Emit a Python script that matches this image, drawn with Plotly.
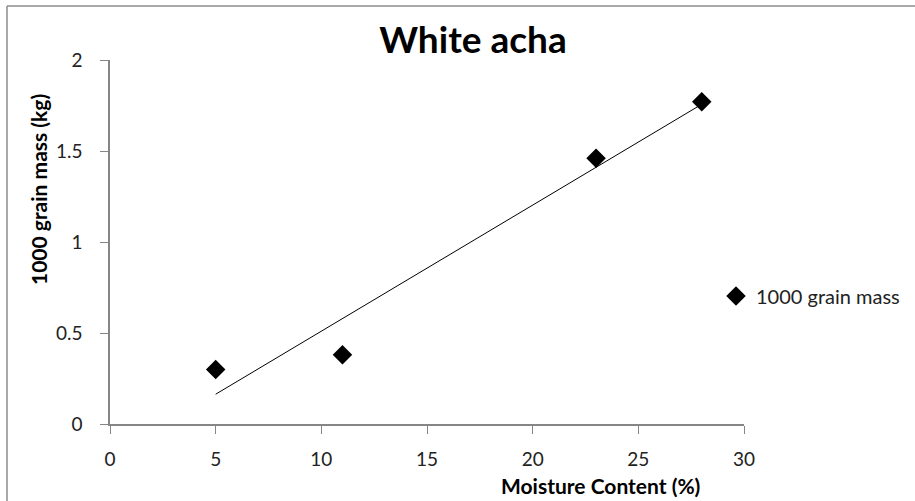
import numpy as np
import plotly.graph_objects as go

# data
moisture = [5, 11, 23, 28]
grain_mass = [0.30, 0.38, 1.46, 1.77]
series_name = "1000 grain mass"

FONT = "Lato, Carlito, Calibri, sans-serif"
AXIS_GREY = "#868686"

# linear trendline (least squares fit, like Excel)
slope, intercept = np.polyfit(moisture, grain_mass, 1)
trend_x = [min(moisture), max(moisture)]
trend_y = [slope * x + intercept for x in trend_x]

fig = go.Figure()
fig.add_trace(go.Scatter(
    x=trend_x, y=trend_y, mode="lines",
    line=dict(color="#000000", width=1),
    showlegend=False, hoverinfo="skip",
))
fig.add_trace(go.Scatter(
    x=moisture, y=grain_mass, mode="markers", name=series_name,
    marker=dict(symbol="diamond", size=15, color="#000000"),
))

W, H = 915, 501
ml, mr, mt, mb = 110, W - 744, 60, H - 424
pw, ph = W - ml - mr, H - mt - mb


def px_x(x):
    # pixel column -> paper x
    return (x - ml) / pw


def px_y(y):
    # pixel row -> paper y
    return 1 - (y - mt) / ph


fig.update_layout(
    width=W, height=H,
    margin=dict(l=ml, r=mr, t=mt, b=mb, autoexpand=False),
    paper_bgcolor="white", plot_bgcolor="white",
    font=dict(family=FONT, size=19, color="#222222"),
    title=dict(text="<b>White acha</b>", x=473 / W, xanchor="center",
               y=1 - 40 / H, yanchor="middle",
               font=dict(size=37, color="#000000", family=FONT)),
    showlegend=True,
    legend=dict(x=px_x(716), xanchor="left", y=px_y(296), yanchor="middle",
                font=dict(size=20, color="#222222"),
                bgcolor="rgba(0,0,0,0)", itemwidth=30),
    xaxis=dict(range=[0, 30], dtick=5, showgrid=False, zeroline=False,
               showline=True, linecolor=AXIS_GREY, linewidth=1.5,
               ticks="outside", ticklen=8, tickcolor=AXIS_GREY, ticklabelstandoff=9),
    yaxis=dict(range=[0, 2], dtick=0.5, showgrid=False, zeroline=False,
               showline=True, linecolor=AXIS_GREY, linewidth=1.5,
               ticks="outside", ticklen=8, tickcolor=AXIS_GREY, ticklabelstandoff=14),
    annotations=[
        dict(text="<b>Moisture Content (%)</b>", xref="paper", yref="paper",
             x=px_x(600), y=px_y(485), xanchor="center", yanchor="middle",
             showarrow=False, font=dict(size=21, color="#000000", family=FONT)),
        dict(text="<b>1000 grain mass (kg)</b>", xref="paper", yref="paper",
             x=px_x(38), y=px_y(190), xanchor="center", yanchor="middle",
             textangle=-90, showarrow=False,
             font=dict(size=21, color="#000000", family=FONT)),
    ],
    shapes=[
        dict(type="line", xref="paper", yref="paper", layer="above",
             x0=px_x(7), x1=px_x(W + 10), y0=px_y(6), y1=px_y(6),
             line=dict(color="#8c8c8c", width=1.5)),
        dict(type="line", xref="paper", yref="paper", layer="above",
             x0=px_x(7), x1=px_x(7), y0=px_y(6), y1=px_y(H + 10),
             line=dict(color="#8c8c8c", width=1.5)),
    ],
)

fig.write_html("out.html", config={"displayModeBar": False},
               post_script="document.body.style.margin = '0';")
